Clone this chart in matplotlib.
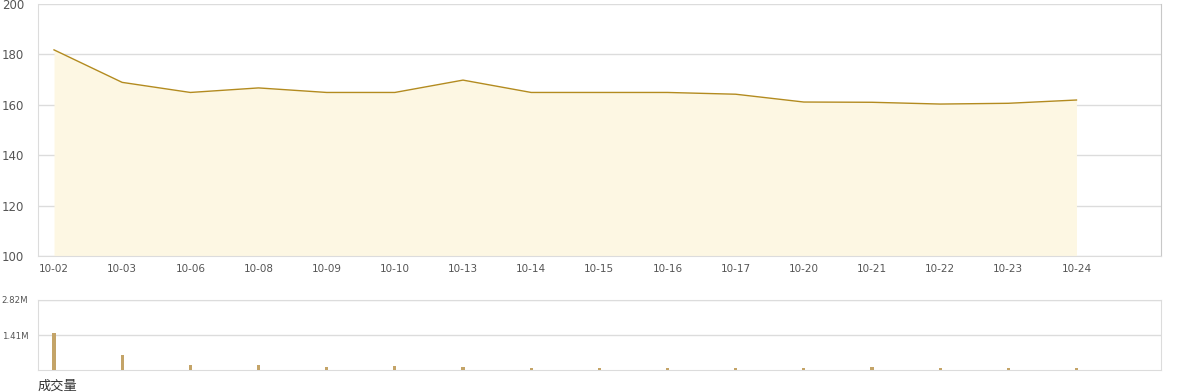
import matplotlib.pyplot as plt
import numpy as np

plt.rcParams['font.family'] = ['DejaVu Sans', 'Noto Sans CJK SC']

# data
dates = ['10-02', '10-03', '10-06', '10-08', '10-09', '10-10', '10-13', '10-14',
         '10-15', '10-16', '10-17', '10-20', '10-21', '10-22', '10-23', '10-24']
price = [181.8, 168.9, 164.9, 166.7, 164.9, 164.9, 169.8, 164.9,
         164.9, 164.9, 164.2, 161.1, 161.0, 160.3, 160.6, 161.9]
volume = [1.49, 0.60, 0.20, 0.20, 0.12, 0.16, 0.12, 0.08,
          0.08, 0.08, 0.08, 0.08, 0.12, 0.08, 0.08, 0.08]  # millions
price_ticks = [100, 120, 140, 160, 180, 200]
vol_ticks = [1.41, 2.82]
vol_labels = ['1.41M', '2.82M']

line_color = '#b38b1f'
fill_color = '#fdf7e3'
bar_color = '#c4a468'
grid_color = '#dcdcdc'
text_color = '#555555'

fig = plt.figure(figsize=(11.8, 3.92), dpi=100)
ax = fig.add_axes([0.0322, 0.3469, 0.9517, 0.6429])
axv = fig.add_axes([0.0322, 0.0561, 0.9517, 0.1786])

x = np.arange(len(dates))
xlim = (-0.235, len(dates) + 0.24)

# price panel
ax.fill_between(x, 100, price, color=fill_color, lw=0, zorder=1)
ax.plot(x, price, color=line_color, lw=1.0, zorder=3)
ax.set_xlim(xlim)
ax.set_ylim(100, 200)
ax.set_yticks(price_ticks)
ax.set_xticks(x)
ax.set_xticklabels(dates)
ax.grid(axis='y', color=grid_color, lw=1, zorder=0)
ax.tick_params(axis='both', length=0, colors=text_color)
ax.tick_params(axis='y', labelsize=8.5, pad=10)
ax.tick_params(axis='x', labelsize=7.5, pad=6)
for s in ax.spines.values():
    s.set_color(grid_color)
ax.spines['top'].set_visible(False)
ax.spines['right'].set_color('#c8c8c8')
ax.set_axisbelow(True)

# volume panel
axv.bar(x, volume, width=0.045, color=bar_color, zorder=3)
axv.set_xlim(xlim)
axv.set_ylim(0, 2.82)
axv.set_yticks(vol_ticks)
axv.set_yticklabels(vol_labels)
axv.set_xticks([])
axv.grid(axis='y', color=grid_color, lw=1, zorder=0)
axv.tick_params(axis='y', length=0, labelsize=6.2, colors=text_color, pad=7)
for s in axv.spines.values():
    s.set_color(grid_color)
axv.set_axisbelow(True)

fig.text(0.0322, 0.005, '成交量', fontsize=9.5, color='#333333',
         family=['Noto Sans CJK SC', 'DejaVu Sans'])

fig.savefig('out.png', dpi=100)
plt.close(fig)
